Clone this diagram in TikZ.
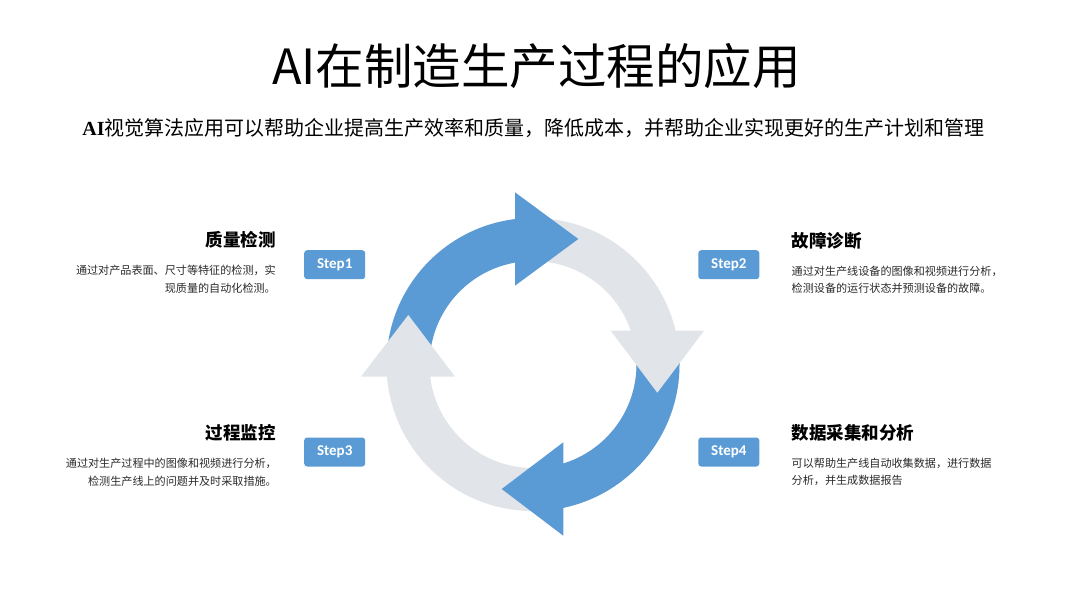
\documentclass[tikz,border=0pt]{standalone}
\usepackage{fontspec}
\setmainfont{Liberation Sans}
\newfontfamily\cjk{Noto Sans CJK SC}
\newfontfamily\serifl{Liberation Serif}
\newfontfamily\stepfont{Carlito}
\definecolor{ablue}{HTML}{5B9BD5}
\definecolor{agray}{HTML}{E1E5E9}
\definecolor{desc}{HTML}{2B2B2B}
\tikzset{
  stepbox/.style={fill=ablue, rounded corners=3pt, minimum width=61pt, minimum height=29pt,
    inner sep=0pt, text=white, font=\stepfont\bfseries\fontsize{15}{15}\selectfont},
  headl/.style={inner sep=0pt, anchor=east, font=\cjk\bfseries\fontsize{17.5}{17.5}\selectfont},
  headr/.style={inner sep=0pt, anchor=west, font=\cjk\bfseries\fontsize{17.5}{17.5}\selectfont},
  descl/.style={inner sep=0pt, anchor=east, align=right, text=desc, font=\cjk\fontsize{11.1}{17.6}\selectfont},
  descr/.style={inner sep=0pt, anchor=west, align=left, text=desc, font=\cjk\fontsize{11.1}{17.6}\selectfont},
}
\begin{document}
\begin{tikzpicture}[x=1pt,y=1pt]
\useasboundingbox (0,0) rectangle (1067,600);
\fill[white] (0,0) rectangle (1067,600);

% title and subtitle
\node[inner sep=0pt, font=\cjk\fontsize{48.5}{48.5}\selectfont] (title) at (536.5,534) {AI在制造生产过程的应用};
\node[inner sep=0pt, font=\cjk\fontsize{20}{20}\selectfont] (subtitle) at (533.5,472)
  {{\serifl\bfseries AI}视觉算法应用可以帮助企业提高生产效率和质量，降低成本，并帮助企业实现更好的生产计划和管理};

% cycle ring
\begin{scope}[shift={(533,235.5)}]
  \fill[agray, even odd rule] (0,0) circle (146.5) (0,0) circle (103.5);
  \fill[ablue] (177:146.5) arc[start angle=177, end angle=95, radius=146.5]
     -- (95:103.5) arc[start angle=95, end angle=177, radius=103.5] -- cycle;
  \fill[ablue] (3:146.5) arc[start angle=3, end angle=-80, radius=146.5]
     -- (-80:103.5) arc[start angle=-80, end angle=3, radius=103.5] -- cycle;
\end{scope}
% arrow heads
\fill[ablue] (515,407.7) -- (578.3,361) -- (515,314.3) -- cycle;
\fill[agray] (610.7,269.3) -- (704,269.3) -- (657.3,207.3) -- cycle;
\fill[ablue] (563.3,157.7) -- (501.7,111) -- (563.3,64.3) -- cycle;
\fill[agray] (361,223.3) -- (455,223.3) -- (408.3,285) -- cycle;

% step boxes
\node[stepbox] (s1) at (334.7,335.3) {Step1};
\node[stepbox] (s2) at (728.8,335.3) {Step2};
\node[stepbox] (s3) at (334.7,148) {Step3};
\node[stepbox] (s4) at (728.8,148) {Step4};

% texts
\node[headl] (h1) at (276,360) {质量检测};
\node[descl] (d1) at (276,320.5) {通过对产品表面、尺寸等特征的检测，实\\现质量的自动化检测。};
\node[headr] (h2) at (791.5,359.5) {故障诊断};
\node[descr] (d2) at (791.5,320) {通过对生产线设备的图像和视频进行分析，\\检测设备的运行状态并预测设备的故障。};
\node[headl] (h3) at (276,167.3) {过程监控};
\node[descl] (d3) at (277,128) {通过对生产过程中的图像和视频进行分析，\\检测生产线上的问题并及时采取措施。};
\node[headr] (h4) at (791.5,167.3) {数据采集和分析};
\node[descr] (d4) at (791.5,128) {可以帮助生产线自动收集数据，进行数据\\分析，并生成数据报告};
\end{tikzpicture}
\end{document}
